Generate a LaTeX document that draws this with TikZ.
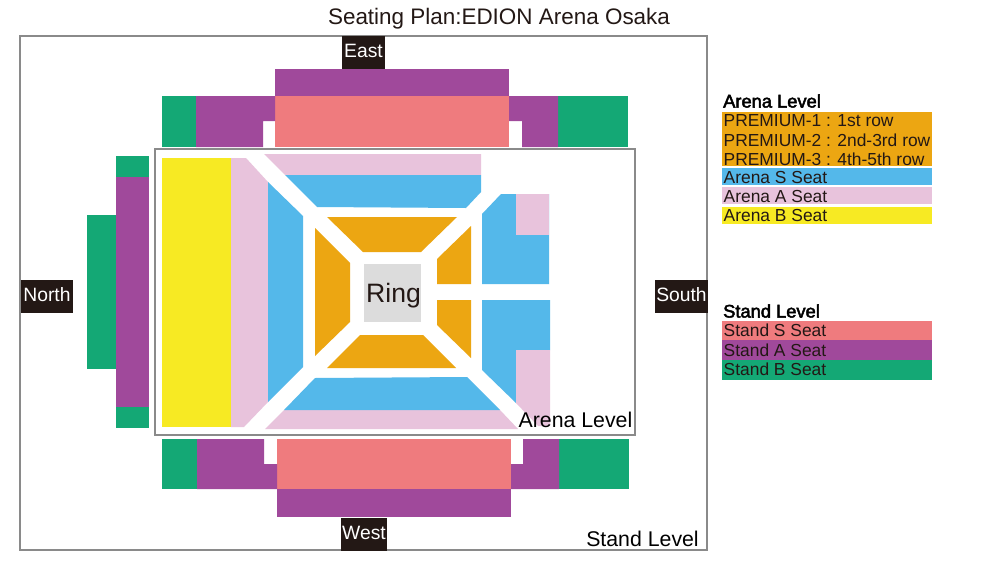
\documentclass[tikz,border=0pt]{standalone}
\usepackage{fontspec}
\setmainfont{Liberation Sans}
\newfontfamily\headfont{Liberation Sans}[FakeBold=2.5]
\definecolor{premium}{HTML}{ECA612}
\definecolor{seatS}{HTML}{54B8EA}
\definecolor{seatA}{HTML}{E8C3DC}
\definecolor{seatB}{HTML}{F7EA23}
\definecolor{standS}{HTML}{EF7B7E}
\definecolor{standA}{HTML}{A0499B}
\definecolor{standB}{HTML}{14A875}
\definecolor{ringgray}{HTML}{DCDCDC}
\definecolor{sidebox}{HTML}{231815}
\definecolor{framegray}{HTML}{8A8A8A}
\tikzset{
  frameline/.style={draw=framegray,line width=1.2pt},
  side/.style={fill=sidebox,text=white,inner sep=0pt,font=\fontsize{19.3}{22}\selectfont,minimum height=33pt,text height=11pt,text depth=0pt},
  keytext/.style={anchor=west,inner sep=0pt,text=sidebox,font=\fontsize{17.4}{20}\selectfont},
  keyhead/.style={anchor=west,inner sep=0pt,font=\fontsize{18.3}{20}\headfont},
  leveltext/.style={inner sep=0pt,text=black,font=\fontsize{21.3}{24}\selectfont}
}
\begin{document}
\begin{tikzpicture}[x=1pt,y=-1pt]
\useasboundingbox(0,0)rectangle(1000,562);
\draw[frameline](20,36)rectangle(707,550);
% stand level
\fill[standA](275,69)rectangle(509,96);
\fill[standS](275,96)rectangle(509,147);
\foreach \x/\w in {162/196,558/628}
\fill[standB](\x,96)rectangle(\w,147);
\fill[standA](196,96)--(275,96)--(275,121)--(263,121)--(263,147)--(196,147)--cycle;
\fill[standA](509,96)--(558,96)--(558,147)--(522,147)--(522,121)--(509,121)--cycle;
\fill[standA](116,177)rectangle(149,407);
\foreach \y/\w in {156/177,407/428}
\fill[standB](116,\y)rectangle(149,\w);
\fill[standB](87,215)rectangle(116,369);
\fill[standA](277,489)rectangle(511,517);
\fill[standS](277,439)rectangle(511,489);
\foreach \x/\w in {162/197,559/629}
\fill[standB](\x,439)rectangle(\w,489);
\fill[standA](197,439)--(264,439)--(264,464)--(277,464)--(277,489)--(197,489)--cycle;
\fill[standA](511,464)--(523,464)--(523,439)--(559,439)--(559,489)--(511,489)--cycle;
% arena level
\fill[white](155,149)rectangle(635,435);
\draw[frameline](155,149)rectangle(635,435);
\fill[seatB](162,158)rectangle(231,427);
\fill[seatA](231,158)--(246,158)--(268,182)--(268,402)--(244,427)--(231,427)--cycle;
\fill[seatA](264,154)--(481,154)--(481,175)--(285,175)--cycle;
\fill[seatA](265,429)--(284,410)--(500,410)--(518,429)--cycle;
\fill[seatS](268,182)--(303,216)--(303,367)--(268,402)--cycle;
\fill[seatS](285,175)--(481,175)--(481,192)--(466,208)--(317,207)--cycle;
\fill[seatS](315,378)--(467,377)--(500,410)--(284,410)--cycle;
\fill[seatS](482,214)--(501,194)--(549,194)--(549,284)--(482,284)--cycle;
\fill[seatS](482,300)--(550,300)--(550,350)--(516,350)--(516,403)--(482,370)--cycle;
\fill[seatA](516,194)rectangle(549,235);
\fill[seatA](516,350)--(550,350)--(550,426)--(538,426)--(516,403)--cycle;
\fill[premium](315,228)--(350,263)--(350,322)--(315,356)--cycle;
\fill[premium](327,217)--(457,217)--(421,252)--(363,252)--cycle;
\fill[premium](360,335)--(423,335)--(456,368)--(327,368)--cycle;
\fill[premium](437,259)--(471,226)--(471,284)--(437,284)--cycle;
\fill[premium](437,300)--(471,300)--(471,358)--(437,325)--cycle;
\node[fill=ringgray,text=sidebox,minimum width=57pt,minimum height=58pt,inner sep=0pt,text height=22pt,text depth=2.8pt,font=\fontsize{26.6}{30}\selectfont](ring)at(392.5,293){\hspace{2pt}Ring};
% labels
\node[inner sep=0pt,text=sidebox,font=\fontsize{22.45}{26}\selectfont](title)at(499,18.5){Seating Plan:EDION Arena Osaka};
\node[side,minimum width=43pt](east)at(363.5,52){East};
\node[side,minimum width=46pt](west)at(364,534){West};
\node[side,minimum width=52pt](north)at(47,296){North};
\node[side,minimum width=53pt](south)at(681.5,296){South};
\node[leveltext](arenalevel)at(575.5,420){Arena Level};
\node[leveltext](standlevel)at(642.5,539){Stand Level};
% key
\node[keyhead](arenahead)at(723,101){Arena Level};
\fill[premium](722,112)rectangle(932,166);
\fill[seatS](722,168)rectangle(932,185);
\fill[seatA](722,187)rectangle(932,204);
\fill[seatB](722,207)rectangle(932,224);
\foreach \n/\y/\t in {p1/121/PREMIUM-1 : 1st row,p2/140/PREMIUM-2 : 2nd-3rd row,p3/159/PREMIUM-3 : 4th-5th row,as/178/Arena S Seat,aa/197/Arena A Seat,ab/216/Arena B Seat}
\node[keytext](key\n)at(723.5,\y){\t};
\node[keyhead](standhead)at(723,311){Stand Level};
\fill[standS](722,321)rectangle(932,340);
\fill[standA](722,340)rectangle(932,360);
\fill[standB](722,360)rectangle(932,380);
\foreach \n/\y/\t in {ss/330/Stand S Seat,sa/350/Stand A Seat,sb/369/Stand B Seat}
\node[keytext](key\n)at(723.5,\y){\t};
\end{tikzpicture}
\end{document}
